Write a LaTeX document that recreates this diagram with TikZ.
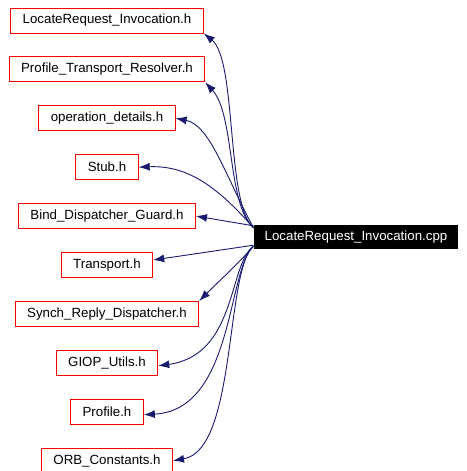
\documentclass[tikz,border=0pt]{standalone}
\usepackage{fontspec}
\setmainfont{Liberation Sans}
\usepackage{xcolor}
\usetikzlibrary{arrows.meta,positioning}
\definecolor{edgeblue}{HTML}{191970}

\begin{document}
\begin{tikzpicture}[x=1pt,y=-1pt,>={Latex[length=11pt,width=8pt]},
  hdr/.style={draw=red,line width=0.9pt,minimum height=25pt,inner xsep=12pt,
              inner ysep=0pt,font=\fontsize{13.3}{16}\selectfont},
  cppnode/.style={fill=black,text=white,minimum height=24pt,inner xsep=11pt,
              inner ysep=0pt,font=\fontsize{13.3}{16}\selectfont},
  flow/.style={->,draw=edgeblue,line width=0.9pt}]
  \useasboundingbox (0,0) rectangle (466,471);
  \node[hdr] (lrh) at (107,20.5) {LocateRequest\_Invocation.h};
  \node[hdr,below=23pt of lrh] (ptr) {Profile\_Transport\_Resolver.h};
  \node[hdr,below=23pt of ptr] (opd) {operation\_details.h};
  \node[hdr,below=23pt of opd] (stub) {Stub.h};
  \node[hdr,below=23pt of stub] (bdg) {Bind\_Dispatcher\_Guard.h};
  \node[hdr,below=23pt of bdg] (trn) {Transport.h};
  \node[hdr,below=23pt of trn] (srd) {Synch\_Reply\_Dispatcher.h};
  \node[hdr,below=23pt of srd] (giop) {GIOP\_Utils.h};
  \node[hdr,below=23pt of giop] (prof) {Profile.h};
  \node[hdr,below=23pt of prof] (orb) {ORB\_Constants.h};
  \node[cppnode] (cpp) at (356,237) {LocateRequest\_Invocation.cpp};
  % edge ends on the source
  \coordinate (up) at ([yshift=-3pt]cpp.north west);
  \coordinate (dn) at ([yshift=3pt]cpp.south west);
  \draw[flow] (up) .. controls (226,205) and (237,60) .. (lrh.south east);
  \draw[flow] (up) .. controls (227,205) and (235,115) .. (ptr.south east);
  \draw[flow] (up) .. controls (225,175) and (210,125) .. (opd.east);
  \draw[flow] (up) .. controls (220,190) and (190,165) .. (stub.east);
  \draw[flow] ([yshift=2pt]up) -- (bdg.east);
  \draw[flow] ([yshift=1pt]dn) -- ([yshift=5pt]trn.east);
  \draw[flow] (dn) .. controls (240,262) and (215,285) .. (srd.north east);
  \draw[flow] (dn) .. controls (228,265) and (237,355) .. ([yshift=-3pt]giop.east);
  \draw[flow] (dn) .. controls (227,270) and (234,410) .. ([yshift=-3pt]prof.east);
  \draw[flow] (dn) .. controls (225,270) and (237,450) .. (orb.east);
\end{tikzpicture}
\end{document}
